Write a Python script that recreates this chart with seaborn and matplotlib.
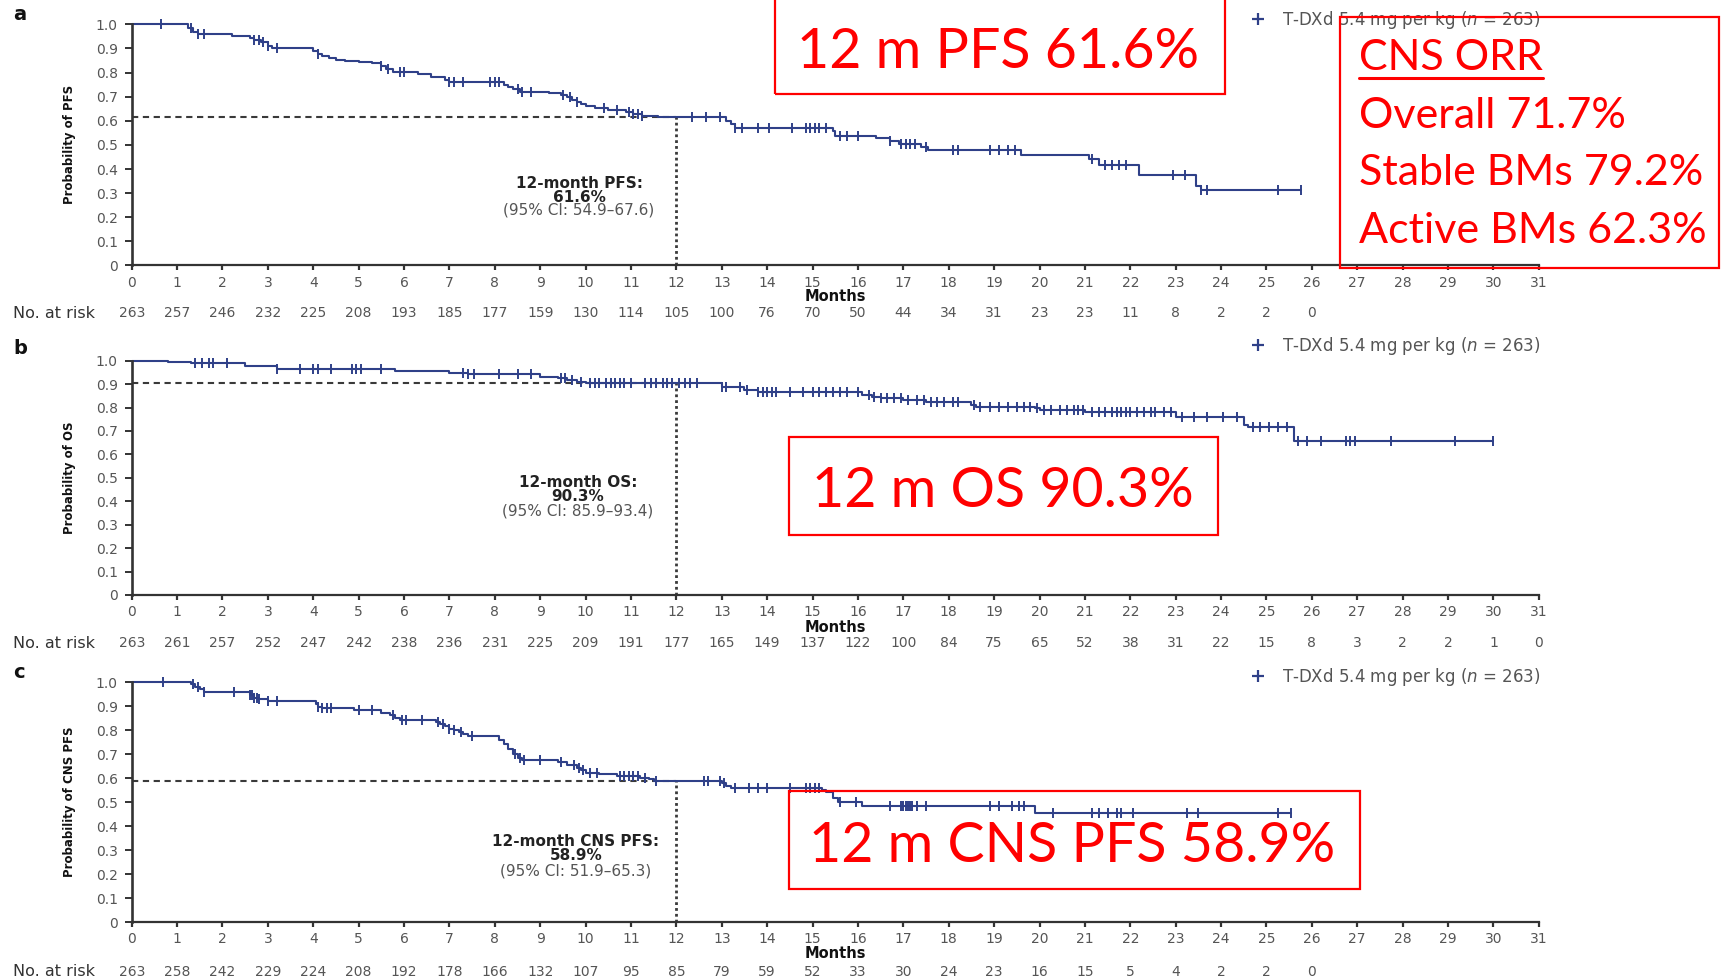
import numpy as np
import pandas as pd
import matplotlib
matplotlib.use("Agg")
import matplotlib.pyplot as plt
import seaborn as sns
from matplotlib.patches import Rectangle
from matplotlib.lines import Line2D
from matplotlib.transforms import blended_transform_factory

# ---------------- data ----------------
months = list(range(0, 32))

# Panel a: PFS (event times and survival after each step)
pfs_t = [0, 1.25, 1.35, 1.45, 2.2, 2.6, 2.7, 2.85, 3.0, 3.1, 4.0, 4.1, 4.2, 4.35, 4.5,
         4.7, 5.0, 5.3, 5.5, 5.6, 5.75, 6.3, 6.6, 6.9, 7.0, 8.2, 8.3, 8.4, 8.55, 9.2,
         9.45, 9.6, 9.7, 9.8, 9.9, 10.0, 10.2, 10.5, 10.9, 11.05, 11.25, 11.6, 13.1,
         13.2, 13.3, 15.45, 15.5, 16.4, 16.7, 16.9, 17.4, 17.55, 19.6, 21.1, 21.3,
         22.2, 23.45, 23.55]
pfs_s = [1.0, 0.985, 0.97, 0.958, 0.95, 0.945, 0.935, 0.925, 0.912, 0.9, 0.89, 0.878,
         0.868, 0.86, 0.852, 0.847, 0.843, 0.838, 0.828, 0.815, 0.802, 0.792, 0.782,
         0.77, 0.76, 0.75, 0.74, 0.73, 0.72, 0.714, 0.706, 0.698, 0.688, 0.678, 0.668,
         0.66, 0.652, 0.645, 0.638, 0.628, 0.62, 0.616, 0.6, 0.585, 0.568, 0.556,
         0.537, 0.527, 0.515, 0.505, 0.49, 0.478, 0.46, 0.44, 0.418, 0.377, 0.33, 0.312]
pfs_cens = [0.65, 1.3, 1.45, 1.6, 2.7, 2.8, 2.9, 3.0, 3.2, 4.1, 5.5, 5.65, 5.9, 6.0,
            7.0, 7.1, 7.3, 7.9, 8.0, 8.1, 8.5, 8.6, 8.8, 9.5, 9.65, 9.8, 10.4, 10.7,
            10.95, 11.05, 11.15, 11.25, 12.35, 12.65, 12.95, 13.3, 13.45, 13.8, 14.05,
            14.55, 14.85, 14.95, 15.05, 15.15, 15.3, 15.6, 15.75, 16.0, 16.7, 16.95,
            17.05, 17.15, 17.25, 17.5, 18.1, 18.2, 18.9, 19.1, 19.3, 19.45, 21.15,
            21.45, 21.6, 21.75, 21.9, 22.95, 23.2, 23.55, 23.7, 25.25, 25.75]
pfs_risk = [263, 257, 246, 232, 225, 208, 193, 185, 177, 159, 130, 114, 105, 100, 76,
            70, 50, 44, 34, 31, 23, 23, 11, 8, 2, 2, 0]

# Panel b: OS
os_t = [0, 0.8, 1.3, 2.5, 3.2, 5.8, 7.0, 7.4, 9.0, 9.4, 9.6, 9.8, 10.0, 13.0, 13.5,
        13.8, 16.1, 16.3, 16.5, 17.0, 17.5, 18.5, 18.6, 19.9, 20.0, 21.0, 23.0, 24.5,
        24.6, 25.6]
os_s = [1.0, 0.996, 0.99, 0.977, 0.964, 0.956, 0.948, 0.942, 0.932, 0.925, 0.918,
        0.91, 0.903, 0.889, 0.876, 0.868, 0.854, 0.846, 0.84, 0.832, 0.825, 0.812,
        0.804, 0.797, 0.79, 0.782, 0.758, 0.725, 0.715, 0.657]
os_cens = [1.4, 1.55, 1.7, 1.8, 2.1, 3.2, 3.7, 4.0, 4.1, 4.4, 4.85, 4.95, 5.05, 5.5,
           7.3, 7.4, 7.55, 8.1, 8.5, 8.8, 9.45, 9.55, 9.7, 9.9, 10.1, 10.2, 10.3,
           10.45, 10.55, 10.65, 10.75, 10.85, 11.0, 11.3, 11.45, 11.55, 11.7, 11.8,
           11.9, 12.05, 12.2, 12.3, 12.45, 13.0, 13.1, 13.4, 13.55, 13.8, 13.9, 14.0,
           14.1, 14.2, 14.5, 14.8, 15.0, 15.15, 15.3, 15.45, 15.6, 15.75, 16.0, 16.25,
           16.35, 16.5, 16.65, 16.8, 16.95, 17.1, 17.3, 17.45, 17.6, 17.75, 17.9, 18.1,
           18.2, 18.55, 18.7, 18.9, 19.1, 19.3, 19.5, 19.65, 19.8, 19.95, 20.1, 20.25,
           20.45, 20.6, 20.75, 20.85, 20.95, 21.15, 21.3, 21.45, 21.6, 21.7, 21.8,
           21.9, 22.0, 22.15, 22.3, 22.45, 22.55, 22.75, 22.9, 23.15, 23.4, 23.7,
           24.05, 24.35, 24.7, 24.85, 25.05, 25.25, 25.45, 25.7, 25.9, 26.2, 26.75,
           26.85, 26.95, 27.75, 29.15, 30.0]
os_risk = [263, 261, 257, 252, 247, 242, 238, 236, 231, 225, 209, 191, 177, 165, 149,
           137, 122, 100, 84, 75, 65, 52, 38, 31, 22, 15, 8, 3, 2, 2, 1, 0]

# Panel c: CNS PFS
cns_t = [0, 1.3, 1.4, 1.5, 1.6, 2.6, 2.7, 2.8, 3.0, 4.05, 4.1, 4.2, 4.9, 5.5, 5.7,
         5.8, 5.9, 6.7, 6.8, 6.9, 7.0, 7.1, 7.2, 7.3, 7.4, 8.1, 8.2, 8.3, 8.4, 8.5,
         8.6, 9.4, 9.6, 9.8, 9.9, 10.0, 10.3, 10.7, 11.2, 11.4, 11.5, 13.0, 13.1,
         13.2, 15.2, 15.3, 15.45, 15.55, 16.1, 19.9]
cns_s = [1.0, 0.99, 0.98, 0.97, 0.958, 0.945, 0.935, 0.93, 0.922, 0.91, 0.895, 0.89,
         0.884, 0.872, 0.862, 0.852, 0.843, 0.835, 0.825, 0.815, 0.806, 0.8, 0.793,
         0.785, 0.775, 0.76, 0.74, 0.72, 0.7, 0.683, 0.675, 0.665, 0.655, 0.642,
         0.632, 0.622, 0.615, 0.61, 0.6, 0.594, 0.589, 0.579, 0.566, 0.558, 0.551,
         0.54, 0.517, 0.499, 0.485, 0.454]
cns_cens = [0.7, 1.35, 1.45, 1.6, 2.25, 2.6, 2.65, 2.7, 2.75, 2.8, 3.0, 3.2, 4.1, 4.2,
            4.3, 4.4, 5.0, 5.3, 5.75, 5.95, 6.05, 6.4, 6.75, 6.85, 7.0, 7.1, 7.25, 7.5,
            8.45, 8.55, 8.65, 9.0, 9.45, 9.75, 9.85, 9.95, 10.1, 10.25, 10.75, 10.85,
            10.95, 11.05, 11.15, 11.3, 11.55, 12.6, 12.7, 12.95, 13.05, 13.3, 13.6,
            13.8, 14.0, 14.5, 14.85, 14.95, 15.05, 15.15, 15.6, 15.95, 16.7, 16.95,
            17.0, 17.05, 17.1, 17.15, 17.2, 17.3, 17.5, 18.9, 19.1, 19.4, 19.55,
            19.65, 20.3, 21.15, 21.3, 21.5, 21.7, 21.8, 22.05, 23.25, 23.5, 25.25,
            25.55]
cns_risk = [263, 258, 242, 229, 224, 208, 192, 178, 166, 132, 107, 95, 85, 79, 59,
            52, 33, 30, 24, 23, 16, 15, 5, 4, 2, 2, 0]

landmark_12m = [0.616, 0.903, 0.589]
ylabels = ["Probability of PFS", "Probability of OS", "Probability of CNS PFS"]
letters = ["a", "b", "c"]
ann_titles = ["12-month PFS:", "12-month OS:", "12-month CNS PFS:"]
ann_values = ["61.6%", "90.3%", "58.9%"]
ann_ci = ["(95% CI: 54.9\u201367.6)", "(95% CI: 85.9\u201393.4)", "(95% CI: 51.9\u201365.3)"]
legend_label = r"T-DXd 5.4 mg per kg ($\mathit{n}$ = 263)"
box_texts = ["12 m PFS 61.6%", "12 m OS 90.3%", "12 m CNS PFS 58.9%"]
orr_lines = ["CNS ORR", "Overall 71.7%", "Stable BMs 79.2%", "Active BMs 62.3%"]

# ---------------- style ----------------
sns.set_style("white")
plt.rcParams["font.family"] = ["DejaVu Sans"]
plt.rcParams["mathtext.fontset"] = "custom"
plt.rcParams["mathtext.rm"] = "DejaVu Sans"
plt.rcParams["mathtext.it"] = "DejaVu Sans:italic"

LINE = "#2f4088"
AXC = "#333333"
TXT = "#555555"

W, H = 1721, 977
fig = plt.figure(figsize=(W / 100, H / 100), dpi=100)


def fx(x):
    return x / W


def fy(y):
    return 1 - y / H


AX_L, AX_R = 131.7, 1538.8
layout = [
    dict(top=24.3, bot=265.5, letter_y=14, months_y=297, risk_y=313, legend_y=20,
         ann_x=579, ann_y=(183, 197, 210)),
    dict(top=360.7, bot=595.0, letter_y=348, months_y=627, risk_y=643, legend_y=346,
         ann_x=578, ann_y=(483, 497, 511)),
    dict(top=682.0, bot=922.0, letter_y=672, months_y=953, risk_y=972, legend_y=677,
         ann_x=576, ann_y=(842, 856, 871)),
]
curves = [(pfs_t, pfs_s, pfs_cens, pfs_risk),
          (os_t, os_s, os_cens, os_risk),
          (cns_t, cns_s, cns_cens, cns_risk)]

for i, (lay, (t, s, cens, risk)) in enumerate(zip(layout, curves)):
    ax = fig.add_axes([fx(AX_L), fy(lay["bot"]), (AX_R - AX_L) / W,
                       (lay["bot"] - lay["top"]) / H])
    t_arr = np.asarray(t, float)
    s_arr = np.asarray(s, float)
    end = max(cens)
    df = pd.DataFrame({"t": np.append(t_arr, end), "s": np.append(s_arr, s_arr[-1])})
    sns.lineplot(data=df, x="t", y="s", ax=ax, drawstyle="steps-post", color=LINE,
                 linewidth=1.5, estimator=None, sort=False)
    c_arr = np.asarray(cens, float)
    c_y = s_arr[np.searchsorted(t_arr, c_arr, side="right") - 1]
    sns.scatterplot(x=c_arr, y=c_y, ax=ax, marker="|", s=60, linewidth=1.4,
                    color=LINE, zorder=3)
    for ln in ax.lines:
        ln.set_clip_on(False)
    for col in ax.collections:
        col.set_clip_on(False)

    # landmark reference lines
    ref = landmark_12m[i]
    ax.plot([0, 12], [ref, ref], color="#3a3a3a", lw=1.5, ls=(0, (3, 2.2)), zorder=1)
    ax.plot([12, 12], [0, ref], color="#3a3a3a", lw=2.0, ls=(0, (1, 1.1)), zorder=1)

    ax.set_xlim(0, 31)
    ax.set_ylim(0, 1.0)
    ax.set_xticks(months)
    ax.set_xticklabels([str(m) for m in months])
    yt = np.round(np.arange(0, 1.01, 0.1), 1)
    ax.set_yticks(yt)
    ax.set_yticklabels(["0"] + [f"{v:.1f}" for v in yt[1:]])
    for sp in ["top", "right"]:
        ax.spines[sp].set_visible(False)
    ax.spines["left"].set_color(AXC)
    ax.spines["bottom"].set_color(AXC)
    ax.spines["left"].set_linewidth(1.9)
    ax.spines["bottom"].set_linewidth(1.6)
    ax.tick_params(axis="x", direction="out", length=3.5, width=1.6, color=AXC,
                   labelsize=10, labelcolor=TXT, pad=4, bottom=True)
    ax.tick_params(axis="y", direction="out", length=5, width=1.4, color=AXC,
                   labelsize=10, labelcolor=TXT, pad=5, left=True)
    ax.set_facecolor("none")
    ax.grid(False)

    ax.set_xlabel("Months", fontsize=10.5, fontweight="bold", color="#111111")
    ax.xaxis.label.set_va("center")
    ax.xaxis.set_label_coords(0.5, -(lay["months_y"] - lay["bot"]) / (lay["bot"] - lay["top"]))
    ax.set_ylabel(ylabels[i], fontsize=8.5, fontweight="bold", color="#111111")
    ax.yaxis.label.set_va("center")
    ax.yaxis.set_label_coords(-(AX_L - 69) / (AX_R - AX_L), 0.5)

    # panel letter
    fig.text(fx(13), fy(lay["letter_y"]), letters[i], fontsize=14, fontweight="bold",
             color="#111111", ha="left", va="center")

    # number at risk
    fig.text(fx(13), fy(lay["risk_y"]), "No. at risk", fontsize=11.5, color="#333333",
             ha="left", va="center")
    tr = blended_transform_factory(ax.transData, fig.transFigure)
    for m, n in zip(months, risk):
        ax.text(m, fy(lay["risk_y"]), str(n), transform=tr, fontsize=10, color=TXT,
                ha="center", va="center", clip_on=False)

    # annotation
    ax_, ay = lay["ann_x"], lay["ann_y"]
    fig.text(fx(ax_), fy(ay[0]), ann_titles[i], fontsize=11, fontweight="bold",
             color="#222222", ha="center", va="center")
    fig.text(fx(ax_), fy(ay[1]), ann_values[i], fontsize=11, fontweight="bold",
             color="#222222", ha="center", va="center")
    fig.text(fx(ax_), fy(ay[2]), ann_ci[i], fontsize=11, color=TXT,
             ha="center", va="center")

    # legend
    handle = Line2D([], [], marker="+", ls="none", color=LINE, markersize=8,
                    markeredgewidth=1.6)
    ax.legend([handle], [legend_label], loc="center left",
              bbox_to_anchor=(fx(1250), fy(lay["legend_y"])),
              bbox_transform=fig.transFigure, frameon=False, fontsize=12,
              handlelength=1.0, handletextpad=0.9, borderpad=0, borderaxespad=0,
              labelcolor="#555555")

# ---------------- red call-out boxes ----------------
RED = "#ff0000"
boxes = [(775, -3, 1224.5, 94), (789, 436.7, 1218, 535), (789, 791, 1359.5, 889),
         (1340, 16.7, 1719, 268)]
for (l, t_, r, b) in boxes:
    fig.add_artist(Rectangle((fx(l), fy(b)), (r - l) / W, (b - t_) / H,
                             transform=fig.transFigure, fill=False, edgecolor=RED,
                             linewidth=1.6, clip_on=False, zorder=10))

red_pos = [(998, 68), (1003, 506.7), (1072, 861.7)]
for txt, (x, y) in zip(box_texts, red_pos):
    fig.text(fx(x), fy(y), txt, fontsize=40, color=RED, family="Lato",
             ha="center", va="baseline", zorder=11)

orr_base = [70, 127.7, 185, 243.3]
orr_objs = []
for txt, y in zip(orr_lines, orr_base):
    orr_objs.append(fig.text(fx(1359), fy(y), txt, fontsize=31, color=RED,
                             family="Lato", ha="left", va="baseline", zorder=11))

fig.canvas.draw()
bb = orr_objs[0].get_window_extent()
fig.add_artist(Line2D([bb.x0 / W, bb.x1 / W], [fy(77.7), fy(77.7)],
                      transform=fig.transFigure, color=RED, linewidth=2.2))

fig.savefig("out.png", dpi=100)
